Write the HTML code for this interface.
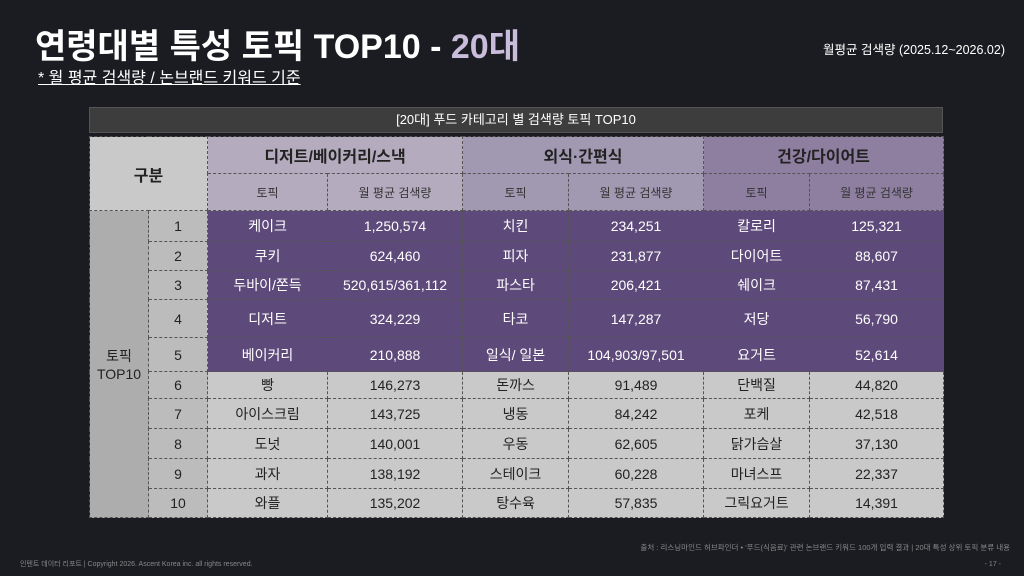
<!DOCTYPE html>
<html><head><meta charset="utf-8">
<style>
*{margin:0;padding:0;box-sizing:border-box}
body{width:1024px;height:576px;background:#1b1c22;font-family:"Liberation Sans","Noto Sans CJK KR",sans-serif;position:relative;overflow:hidden;color:#fff}
.title{position:absolute;left:35px;top:19px;font-size:34px;font-weight:bold;white-space:nowrap}
.title span{color:#c9bddb}
.sub{position:absolute;left:38px;top:64px;font-size:16px;text-decoration:underline;white-space:nowrap}
.period{position:absolute;right:19px;top:39px;font-size:12.5px;white-space:nowrap}
.bar{position:absolute;left:89px;top:107px;width:854px;height:26px;background:#3d3d3d;border:1px solid #555;font-size:13px;text-align:center;line-height:24px}
table{position:absolute;left:89px;top:136px;border-collapse:collapse;table-layout:fixed;width:854px}
td{border:1px dashed #555;text-align:center;font-size:14px;color:#222;padding:0;white-space:nowrap}
.g{background:#c9c9c9}
.h1{font-weight:bold;font-size:16px}
.h2{font-size:12px;color:#333}
.d{background:#b4acbe}.m{background:#a198b1}.hh{background:#8e7fa1}
.p td.c{background:#5e4a7a;color:#fff}
.grp{background:#adadad;color:#222}
.num{background:#bcbcbc}
.foot1{position:absolute;right:14px;top:542px;font-size:7.5px;color:#888;white-space:nowrap}
.foot2{position:absolute;left:20px;top:559px;font-size:7px;color:#888;white-space:nowrap}
.pg{position:absolute;right:23px;top:561px;font-size:7px;color:#888}
</style></head><body>
<div class="title">연령대별 특성 토픽 TOP10 - <span>20대</span></div>
<div class="sub">* 월 평균 검색량 / 논브랜드 키워드 기준</div>
<div class="period">월평균 검색량 (2025.12~2026.02)</div>
<div class="bar">[20대] 푸드 카테고리 별 검색량 토픽 TOP10</div>
<table>
<colgroup><col style="width:59px"><col style="width:59px"><col style="width:120px"><col style="width:135px"><col style="width:106px"><col style="width:135px"><col style="width:106px"><col style="width:134px"></colgroup>
<tr style="height:37px"><td class="g h1" colspan="2" rowspan="2">구분</td><td class="d h1" colspan="2">디저트/베이커리/스낵</td><td class="m h1" colspan="2">외식·간편식</td><td class="hh h1" colspan="2">건강/다이어트</td></tr>
<tr style="height:37px"><td class="d h2">토픽</td><td class="d h2">월 평균 검색량</td><td class="m h2">토픽</td><td class="m h2">월 평균 검색량</td><td class="hh h2">토픽</td><td class="hh h2">월 평균 검색량</td></tr>
<tr class="p" style="height:31px"><td class="grp" rowspan="10">토픽<br>TOP10</td><td class="num">1</td><td class="c">케이크</td><td class="c">1,250,574</td><td class="c">치킨</td><td class="c">234,251</td><td class="c">칼로리</td><td class="c">125,321</td></tr>
<tr class="p" style="height:29px"><td class="num">2</td><td class="c">쿠키</td><td class="c">624,460</td><td class="c">피자</td><td class="c">231,877</td><td class="c">다이어트</td><td class="c">88,607</td></tr>
<tr class="p" style="height:29px"><td class="num">3</td><td class="c">두바이/쫀득</td><td class="c">520,615/361,112</td><td class="c">파스타</td><td class="c">206,421</td><td class="c">쉐이크</td><td class="c">87,431</td></tr>
<tr class="p" style="height:38px"><td class="num">4</td><td class="c">디저트</td><td class="c">324,229</td><td class="c">타코</td><td class="c">147,287</td><td class="c">저당</td><td class="c">56,790</td></tr>
<tr class="p" style="height:34px"><td class="num">5</td><td class="c">베이커리</td><td class="c">210,888</td><td class="c">일식/ 일본</td><td class="c">104,903/97,501</td><td class="c">요거트</td><td class="c">52,614</td></tr>
<tr style="height:27px"><td class="num">6</td><td class="g">빵</td><td class="g">146,273</td><td class="g">돈까스</td><td class="g">91,489</td><td class="g">단백질</td><td class="g">44,820</td></tr>
<tr style="height:30px"><td class="num">7</td><td class="g">아이스크림</td><td class="g">143,725</td><td class="g">냉동</td><td class="g">84,242</td><td class="g">포케</td><td class="g">42,518</td></tr>
<tr style="height:30px"><td class="num">8</td><td class="g">도넛</td><td class="g">140,001</td><td class="g">우동</td><td class="g">62,605</td><td class="g">닭가슴살</td><td class="g">37,130</td></tr>
<tr style="height:30px"><td class="num">9</td><td class="g">과자</td><td class="g">138,192</td><td class="g">스테이크</td><td class="g">60,228</td><td class="g">마녀스프</td><td class="g">22,337</td></tr>
<tr style="height:29px"><td class="num">10</td><td class="g">와플</td><td class="g">135,202</td><td class="g">탕수육</td><td class="g">57,835</td><td class="g">그릭요거트</td><td class="g">14,391</td></tr>
</table>
<div class="foot1">출처 : 리스닝마인드 허브파인더 • '푸드(식음료)' 관련 논브랜드 키워드 100개 입력 결과 | 20대 특성 상위 토픽 분류 내용</div>
<div class="foot2">인텐트 데이터 리포트 | Copyright 2026. Ascent Korea inc. all rights reserved.</div>
<div class="pg">- 17 -</div>
</body></html>
